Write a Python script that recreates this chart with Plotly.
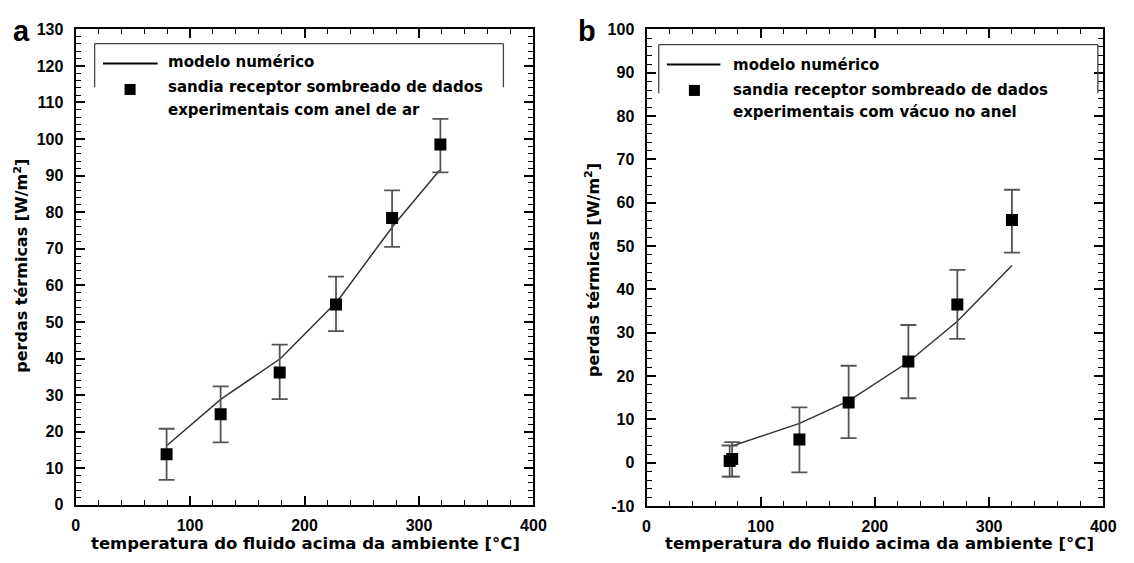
import plotly.graph_objects as go

W, H = 1134, 563

# Panel a: shaded Sandia receiver, air in the annulus
a_exp_x = [79.5, 126.7, 178.3, 227.5, 276.5, 318.7]
a_exp_y = [13.8, 24.8, 36.2, 54.8, 78.4, 98.5]
a_err_hi = [20.8, 32.4, 43.8, 62.4, 86.0, 105.5]
a_err_lo = [6.8, 17.1, 28.9, 47.5, 70.5, 90.9]
a_mod_x = [80, 127, 179, 229, 278, 318]
a_mod_y = [16.3, 28.9, 40.0, 55.8, 76.5, 91.5]

# Panel b: shaded Sandia receiver, vacuum in the annulus
b_exp_x = [72.8, 75.0, 133.9, 177.0, 229.3, 272.2, 320.0]
b_exp_y = [0.4, 0.9, 5.4, 13.9, 23.4, 36.5, 56.0]
b_err_hi = [4.0, 4.8, 12.8, 22.4, 31.8, 44.5, 63.0]
b_err_lo = [-3.2, -3.2, -2.2, 5.7, 14.9, 28.6, 48.5]
b_mod_x = [75, 134, 177, 229, 272, 320]
b_mod_y = [3.9, 9.1, 14.3, 23.2, 32.6, 45.5]

# tick labels
x_ticks = [0, 100, 200, 300, 400]
a_y_ticks = [0, 10, 20, 30, 40, 50, 60, 70, 80, 90, 100, 110, 120, 130]
b_y_ticks = [-10, 0, 10, 20, 30, 40, 50, 60, 70, 80, 90, 100]

x_title = "temperatura do fluido acima da ambiente [°C]"
y_title = "perdas térmicas [W/m<sup>2</sup>]"
leg_model = "modelo numérico"
leg_exp_a = ["sandia receptor sombreado de dados", "experimentais com anel de ar"]
leg_exp_b = ["sandia receptor sombreado de dados", "experimentais com vácuo no anel"]

BOLD = dict(family="DejaVu Sans", color="black", weight=700)
TICKFONT = dict(family="Liberation Sans", size=16, color="black", weight=700)


def px(x):
    return x / W


def py(y):
    return 1 - y / H


fig = go.Figure()


def add_panel(xs, ys, hi, lo, mx, my, xa, ya):
    fig.add_trace(go.Scatter(
        x=mx, y=my, mode="lines", xaxis=xa, yaxis=ya,
        line=dict(color="#333333", width=1.5), hoverinfo="skip"))
    fig.add_trace(go.Scatter(
        x=xs, y=ys, mode="markers", xaxis=xa, yaxis=ya,
        marker=dict(symbol="square", size=12, color="black"),
        error_y=dict(type="data", symmetric=False,
                     array=[h - v for h, v in zip(hi, ys)],
                     arrayminus=[v - l for v, l in zip(ys, lo)],
                     color="#555555", thickness=1.8, width=8)))


add_panel(a_exp_x, a_exp_y, a_err_hi, a_err_lo, a_mod_x, a_mod_y, "x", "y")
add_panel(b_exp_x, b_exp_y, b_err_hi, b_err_lo, b_mod_x, b_mod_y, "x2", "y2")


def axis(rng, ticks, minor_dtick, domain, anchor, standoff):
    return dict(
        range=rng, domain=domain, anchor=anchor,
        tickmode="array", tickvals=ticks,
        ticktext=["<b>%d</b>" % t for t in ticks],
        showgrid=False, zeroline=False, showline=True, linecolor="black",
        linewidth=2, mirror="ticks", ticks="inside", ticklen=9,
        tickwidth=1.5, tickcolor="black", ticklabelstandoff=standoff,
        tickfont=TICKFONT,
        minor=dict(ticks="inside", ticklen=5, tickwidth=1.2, tick0=0,
                   tickcolor="black", dtick=minor_dtick, showgrid=False),
    )


fig.update_layout(
    width=W, height=H, margin=dict(l=0, r=0, t=0, b=0),
    paper_bgcolor="white", plot_bgcolor="white", showlegend=False,
    xaxis=axis([0, 400], x_ticks, 20, [px(72.7), px(537.5)], "y", 5),
    yaxis=axis([0, 130], a_y_ticks, 2, [py(512.3), py(22)], "x", 7),
    xaxis2=axis([0, 400], x_ticks, 20, [px(652.3), px(1116)], "y2", 5),
    yaxis2=axis([-10, 100], b_y_ticks, 2, [py(513.7), py(22)], "x2", 7),
)

ann = []
shapes = []

# panel letters
LETTER = dict(family="Liberation Sans", size=29, color="black", weight=700)
ann.append(dict(x=px(17.5), y=py(24), text="<b>a</b>", font=LETTER))
ann.append(dict(x=px(592), y=py(24), text="<b>b</b>", font=LETTER))

# axis titles
for cx, cy in [(306, 552), (889, 552)]:
    ann.append(dict(x=px(cx), y=py(cy), text="<b>%s</b>" % x_title, font=dict(size=16.5, **BOLD)))
for cx, cy in [(18, 266), (598, 270)]:
    ann.append(dict(x=px(cx), y=py(cy), text="<b>%s</b>" % y_title, textangle=-90, font=dict(size=16, **BOLD)))


def legend(left, right, top, bottom, lx0, lx1, ly, tx, ty, sq, lines):
    for (x0, y0, x1, y1) in [(left, bottom, left, top), (left, top, right, top), (right, top, right, bottom)]:
        shapes.append(dict(type="line", xref="paper", yref="paper",
                           x0=px(x0), y0=py(y0), x1=px(x1), y1=py(y1),
                           line=dict(color="#444444", width=1.3)))
    shapes.append(dict(type="line", xref="paper", yref="paper",
                       x0=px(lx0), x1=px(lx1), y0=py(ly), y1=py(ly),
                       line=dict(color="black", width=2)))
    shapes.append(dict(type="rect", xref="paper", yref="paper",
                       xsizemode="pixel", ysizemode="pixel",
                       xanchor=px(sq[0]), yanchor=py(sq[1]),
                       x0=-5.5, x1=5.5, y0=-5.5, y1=5.5,
                       fillcolor="black", line=dict(width=0)))
    for text, yy in zip([leg_model] + lines, ty):
        ann.append(dict(x=px(tx), y=py(yy), text="<b>%s</b>" % text, xanchor="left",
                        font=dict(size=15, **BOLD)))


legend(92, 507, 36.7, 81.7, 100.5, 156, 57.3, 164.4, [56, 81.7, 105], (128, 84), leg_exp_a)
legend(664.7, 1110.5, 37.7, 88, 673, 727.3, 58.3, 738.1, [58.3, 85, 107.3], (700.9, 85), leg_exp_b)

for a in ann:
    a.setdefault("xref", "paper")
    a.setdefault("yref", "paper")
    a.setdefault("showarrow", False)
    a.setdefault("xanchor", "center")
    a.setdefault("yanchor", "middle")

fig.update_layout(annotations=ann, shapes=shapes)

fig.write_html("out.html")
